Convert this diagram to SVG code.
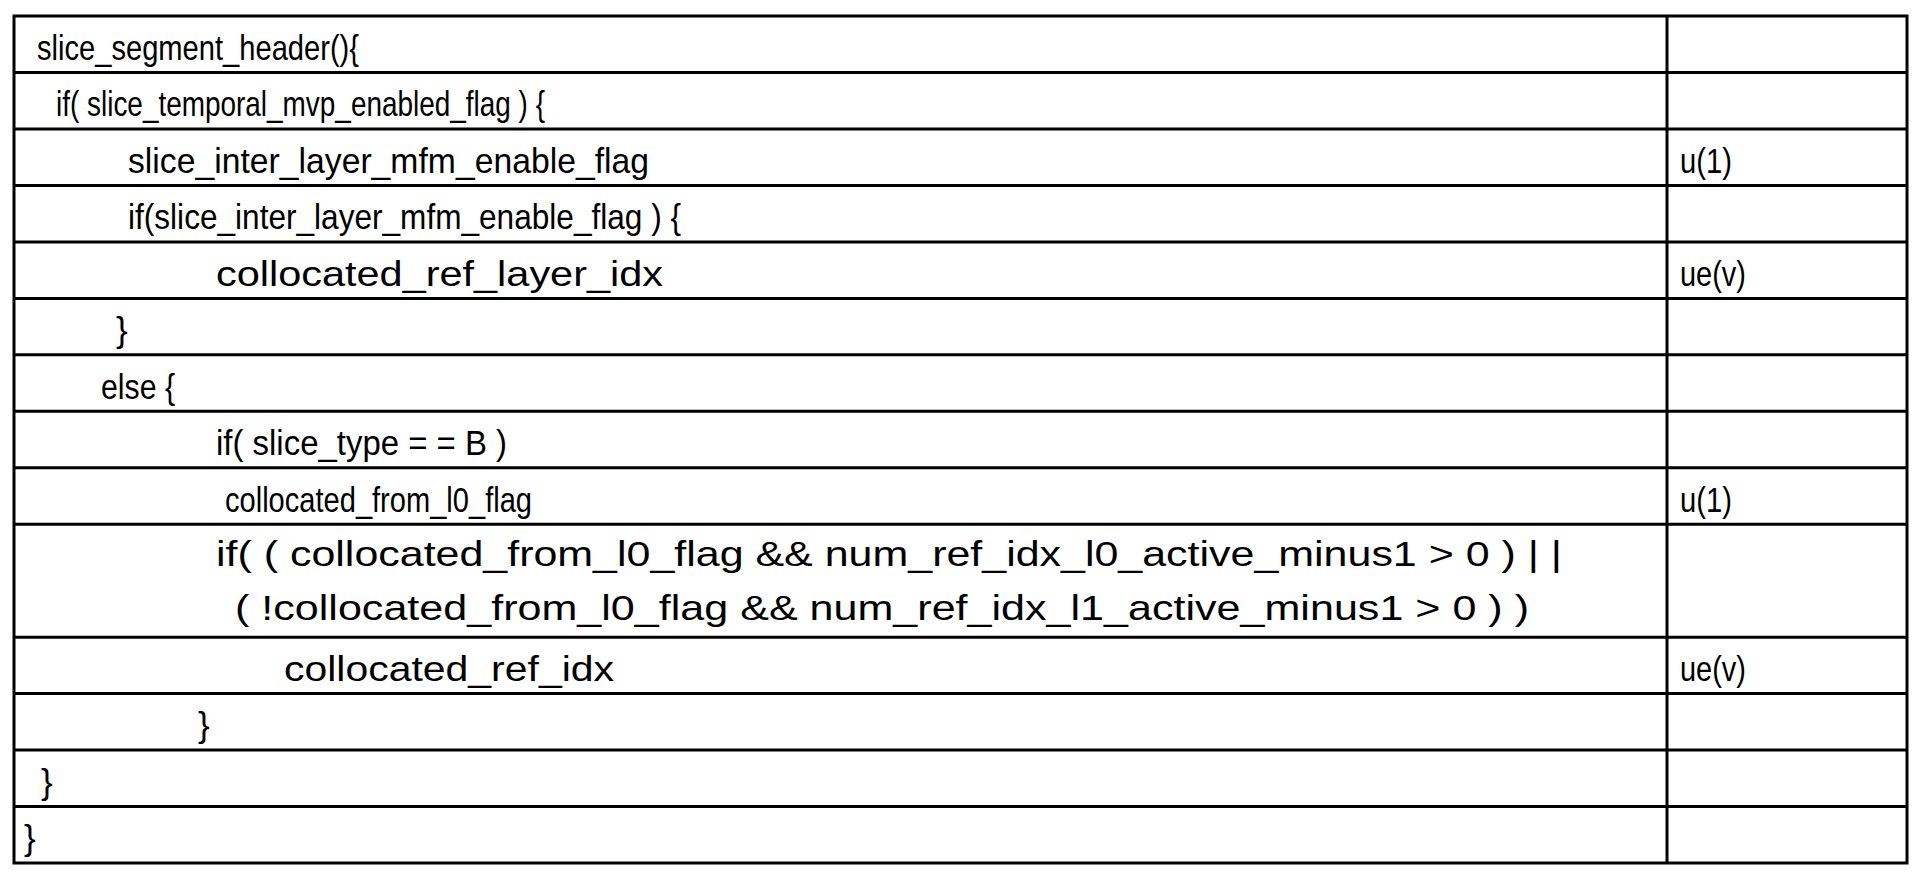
<svg xmlns="http://www.w3.org/2000/svg" width="1926" height="886" viewBox="0 0 1926 886">
<style>
text{font-family:"Liberation Sans",Arial,sans-serif;font-size:35px;fill:#000}
.l{stroke:#000;stroke-width:3;fill:none}
</style>
<rect width="1926" height="886" fill="#fff"/>
<g id="grid">
<rect class="l" x="14" y="16" width="1893" height="847" stroke-width="4"/>
<line class="l" x1="1667" y1="16" x2="1667" y2="863"/>
<path class="l" d="M14 72.5H1907M14 129H1907M14 185.4H1907M14 241.9H1907M14 298.4H1907M14 354.8H1907M14 411.3H1907M14 467.8H1907M14 524.2H1907M14 637.2H1907M14 693.6H1907M14 750.1H1907M14 806.6H1907"/>
</g>
<g id="r1"><text x="37" y="60" textLength="322" lengthAdjust="spacingAndGlyphs">slice_segment_header(){</text></g>
<g id="r2"><text x="56" y="116" textLength="489" lengthAdjust="spacingAndGlyphs">if( slice_temporal_mvp_enabled_flag ) {</text></g>
<g id="r3"><text x="128" y="173" textLength="521" lengthAdjust="spacingAndGlyphs">slice_inter_layer_mfm_enable_flag</text><text x="1680" y="173" textLength="52" lengthAdjust="spacingAndGlyphs">u(1)</text></g>
<g id="r4"><text x="128" y="229" textLength="553" lengthAdjust="spacingAndGlyphs">if(slice_inter_layer_mfm_enable_flag ) {</text></g>
<g id="r5"><text x="216" y="286" textLength="447" lengthAdjust="spacingAndGlyphs">collocated_ref_layer_idx</text><text x="1680" y="286" textLength="66" lengthAdjust="spacingAndGlyphs">ue(v)</text></g>
<g id="r6"><text x="116" y="342">}</text></g>
<g id="r7"><text x="101" y="399" textLength="74" lengthAdjust="spacingAndGlyphs">else {</text></g>
<g id="r8"><text x="216" y="455" textLength="291" lengthAdjust="spacingAndGlyphs">if( slice_type = =  B )</text></g>
<g id="r9"><text x="225" y="512" textLength="307" lengthAdjust="spacingAndGlyphs">collocated_from_l0_flag</text><text x="1680" y="512" textLength="52" lengthAdjust="spacingAndGlyphs">u(1)</text></g>
<g id="r10"><text x="216" y="566" textLength="1346" lengthAdjust="spacingAndGlyphs">if( ( collocated_from_l0_flag  &amp;&amp;  num_ref_idx_l0_active_minus1 &gt; 0 )  | |</text><text x="235" y="620" textLength="1294" lengthAdjust="spacingAndGlyphs">( !collocated_from_l0_flag  &amp;&amp;  num_ref_idx_l1_active_minus1 &gt; 0 ) )</text></g>
<g id="r11"><text x="284" y="681" textLength="330" lengthAdjust="spacingAndGlyphs">collocated_ref_idx</text><text x="1680" y="681" textLength="66" lengthAdjust="spacingAndGlyphs">ue(v)</text></g>
<g id="r12"><text x="198" y="737">}</text></g>
<g id="r13"><text x="41" y="794">}</text></g>
<g id="r14"><text x="24" y="850">}</text></g>
</svg>
